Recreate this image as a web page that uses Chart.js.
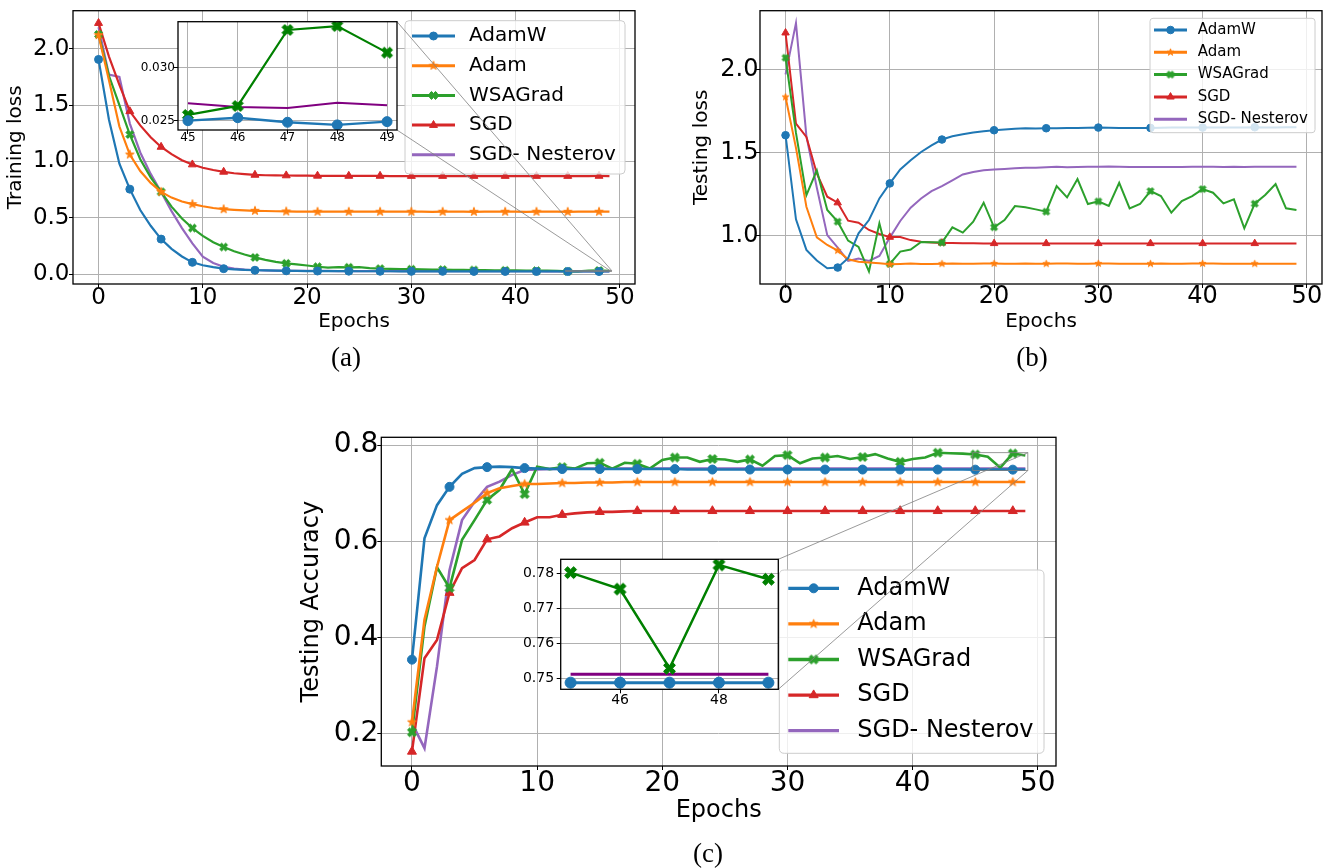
<!DOCTYPE html>
<html>
<head>
<meta charset="utf-8">
<script src="https://cdn.jsdelivr.net/npm/chart.js@4.4.1/dist/chart.umd.min.js"></script>
<style>
  body { margin: 0; background: #fff; }
  #page { position: relative; width: 1333px; height: 868px; overflow: hidden; background: #fff; }
  canvas { position: absolute; }
  .cap { position: absolute; font-family: 'Liberation Serif', serif; font-size: 27px; color: #000;
         transform: translate(-50%, -50%); line-height: 1; }
</style>
</head>
<body>
<div id="page">
  <canvas id="mainA" width="680" height="345" style="left:0px;top:0px"></canvas>
  <canvas id="insetA" width="290" height="140" style="left:120px;top:15px"></canvas>
  <canvas id="mainB" width="653" height="345" style="left:680px;top:0px"></canvas>
  <canvas id="mainC" width="790" height="448" style="left:290px;top:420px"></canvas>
  <canvas id="insetC" width="310" height="180" style="left:480px;top:545px"></canvas>
  <div class="cap" style="left:346px;top:357px">(a)</div>
  <div class="cap" style="left:1032px;top:357px">(b)</div>
  <div class="cap" style="left:708px;top:853px">(c)</div>
</div>
<script>
// ---- data ----
const epochs = [0,1,2,3,4,5,6,7,8,9,10,11,12,13,14,15,16,17,18,19,20,21,22,23,24,
                25,26,27,28,29,30,31,32,33,34,35,36,37,38,39,40,41,42,43,44,45,46,47,48,49];
const seriesNames = ['AdamW', 'Adam', 'WSAGrad', 'SGD', 'SGD- Nesterov'];

// (a) training loss
const trainAdamW = [1.905,1.37,0.98,0.755,0.57,0.43,0.312,0.225,0.158,0.106,
                    0.08,0.063,0.05,0.044,0.04,0.036,0.034,0.032,0.031,0.03,
                    0.029,0.029,0.028,0.028,0.028,0.027,0.027,0.027,0.027,0.026,
                    0.026,0.026,0.026,0.026,0.026,0.0256,0.0256,0.0255,0.0255,0.0255,
                    0.0254,0.0253,0.0252,0.0252,0.0251,0.0250,0.02528,0.02485,0.0246,0.02491];
const trainAdam = [2.12,1.72,1.31,1.062,0.915,0.81,0.731,0.68,0.645,0.622,
                   0.603,0.588,0.577,0.571,0.567,0.563,0.561,0.559,0.557,0.556,
                   0.556,0.555,0.555,0.556,0.555,0.555,0.555,0.555,0.555,0.555,
                   0.555,0.555,0.554,0.555,0.555,0.555,0.554,0.555,0.555,0.555,
                   0.555,0.554,0.555,0.555,0.555,0.554,0.555,0.555,0.555,0.555];
const trainWSAGrad = [2.127,1.76,1.5,1.239,1.02,0.86,0.731,0.6,0.495,0.41,
                      0.34,0.285,0.242,0.205,0.175,0.15,0.128,0.11,0.097,0.088,
                      0.078,0.067,0.06,0.063,0.062,0.063,0.055,0.05,0.048,0.047,
                      0.045,0.044,0.042,0.041,0.04,0.039,0.038,0.037,0.036,0.035,
                      0.034,0.033,0.032,0.033,0.03,0.02554,0.02639,0.03356,0.03393,0.03142];
const trainSGD = [2.227,1.93,1.68,1.445,1.32,1.215,1.129,1.065,1.012,0.973,
                  0.945,0.925,0.908,0.896,0.888,0.881,0.878,0.877,0.876,0.875,
                  0.874,0.873,0.873,0.872,0.872,0.872,0.872,0.872,0.871,0.871,
                  0.871,0.871,0.871,0.871,0.871,0.871,0.871,0.871,0.871,0.871,
                  0.871,0.871,0.871,0.871,0.871,0.871,0.871,0.871,0.872,0.871];
const trainNesterov = [2.19,1.77,1.75,1.336,1.08,0.89,0.73,0.56,0.41,0.274,
                       0.156,0.1,0.067,0.05,0.042,0.038,0.035,0.033,0.032,0.031,
                       0.03,0.03,0.03,0.029,0.029,0.029,0.029,0.028,0.028,0.028,
                       0.028,0.028,0.028,0.027,0.027,0.027,0.027,0.027,0.027,0.027,
                       0.027,0.027,0.027,0.0268,0.0267,0.02664,0.02629,0.0262,0.0267,0.02645];

// (b) testing loss
const testLossAdamW = [1.606,1.1,0.916,0.852,0.806,0.81,0.866,1.016,1.096,1.226,
                       1.316,1.4,1.455,1.505,1.545,1.58,1.6,1.612,1.622,1.63,
                       1.636,1.64,1.645,1.648,1.647,1.648,1.648,1.65,1.649,1.651,
                       1.652,1.651,1.65,1.65,1.65,1.65,1.651,1.652,1.652,1.653,
                       1.652,1.653,1.653,1.652,1.653,1.654,1.653,1.653,1.654,1.654];
const testLossAdam = [1.836,1.53,1.176,0.992,0.946,0.912,0.86,0.845,0.84,0.836,
                      0.83,0.832,0.834,0.832,0.832,0.833,0.834,0.833,0.833,0.834,
                      0.834,0.833,0.833,0.834,0.833,0.833,0.834,0.834,0.833,0.833,
                      0.834,0.834,0.833,0.833,0.833,0.833,0.834,0.833,0.833,0.834,
                      0.834,0.834,0.833,0.833,0.833,0.833,0.833,0.833,0.833,0.833];
const testLossWSAGrad = [2.072,1.62,1.245,1.394,1.156,1.086,0.972,0.934,0.786,1.076,
                         0.832,0.906,0.918,0.964,0.962,0.96,1.052,1.02,1.086,1.2,
                         1.052,1.096,1.18,1.172,1.16,1.146,1.30,1.232,1.342,1.192,
                         1.208,1.18,1.32,1.166,1.192,1.27,1.24,1.14,1.21,1.24,
                         1.282,1.26,1.196,1.22,1.046,1.194,1.246,1.312,1.166,1.156];
const testLossSGD = [2.222,1.676,1.596,1.376,1.236,1.2,1.092,1.08,1.036,1.012,
                     0.993,0.994,0.975,0.965,0.961,0.958,0.957,0.956,0.956,0.955,
                     0.955,0.955,0.955,0.955,0.955,0.955,0.955,0.955,0.955,0.955,
                     0.955,0.955,0.955,0.955,0.955,0.955,0.955,0.955,0.955,0.955,
                     0.955,0.955,0.955,0.955,0.955,0.955,0.955,0.955,0.955,0.955];
const testLossNesterov = [1.972,2.28,1.6,1.29,1.005,0.93,0.85,0.864,0.85,0.88,
                          0.99,1.09,1.17,1.225,1.27,1.30,1.335,1.37,1.385,1.395,
                          1.40,1.403,1.407,1.41,1.411,1.414,1.416,1.414,1.415,1.416,
                          1.416,1.418,1.416,1.415,1.415,1.415,1.415,1.415,1.415,1.416,
                          1.416,1.416,1.415,1.416,1.415,1.416,1.416,1.416,1.416,1.416];

// (c) testing accuracy
const testAccAdamW = [0.354,0.606,0.675,0.713,0.74,0.752,0.754,0.755,0.754,0.752,
                      0.751,0.75,0.75,0.75,0.75,0.75,0.75,0.75,0.75,0.75,
                      0.75,0.75,0.749,0.749,0.749,0.749,0.749,0.749,0.749,0.749,
                      0.749,0.749,0.749,0.749,0.749,0.749,0.749,0.749,0.749,0.749,
                      0.749,0.749,0.749,0.749,0.749,0.7488,0.7488,0.7488,0.7488,0.7488];
const testAccAdam = [0.224,0.437,0.547,0.644,0.662,0.68,0.70,0.71,0.715,0.719,
                     0.719,0.72,0.721,0.721,0.722,0.722,0.722,0.723,0.723,0.723,
                     0.723,0.723,0.723,0.723,0.723,0.723,0.723,0.723,0.723,0.723,
                     0.723,0.723,0.723,0.723,0.723,0.723,0.723,0.723,0.723,0.723,
                     0.723,0.723,0.723,0.723,0.723,0.723,0.723,0.723,0.723,0.723];
const testAccWSAGrad = [0.203,0.423,0.546,0.503,0.603,0.644,0.686,0.707,0.75,0.698,
                        0.755,0.75,0.754,0.751,0.762,0.763,0.751,0.763,0.761,0.751,
                        0.769,0.774,0.774,0.765,0.771,0.77,0.765,0.77,0.757,0.777,
                        0.779,0.762,0.772,0.774,0.777,0.771,0.775,0.781,0.772,0.765,
                        0.771,0.774,0.784,0.783,0.782,0.7802,0.7755,0.7529,0.7824,0.7783];
const testAccSGD = [0.163,0.357,0.395,0.493,0.544,0.561,0.604,0.61,0.627,0.639,
                    0.65,0.65,0.655,0.658,0.66,0.661,0.661,0.662,0.663,0.663,
                    0.663,0.663,0.663,0.663,0.663,0.663,0.663,0.663,0.663,0.663,
                    0.663,0.663,0.663,0.663,0.663,0.663,0.663,0.663,0.663,0.663,
                    0.663,0.663,0.663,0.663,0.663,0.663,0.663,0.663,0.663,0.663];
const testAccNesterov = [0.222,0.17,0.34,0.54,0.644,0.682,0.713,0.724,0.738,0.748,
                         0.749,0.75,0.751,0.751,0.751,0.751,0.751,0.751,0.751,0.751,
                         0.7512,0.7512,0.7512,0.7512,0.7512,0.7512,0.7512,0.7512,0.7512,0.7512,
                         0.7512,0.7512,0.7512,0.7512,0.7512,0.7512,0.7512,0.7512,0.7512,0.7512,
                         0.7512,0.7512,0.7512,0.7512,0.7512,0.7512,0.7512,0.7512,0.7512,0.7512];

// tick labels
const epochTicks = [0, 10, 20, 30, 40, 50];
const trainLossTicks = [0.0, 0.5, 1.0, 1.5, 2.0];
const testLossTicks = [1.0, 1.5, 2.0];
const testAccTicks = [0.2, 0.4, 0.6, 0.8];
const insetATicksX = [45, 46, 47, 48, 49];
const insetATicksY = [0.025, 0.030];
const insetCTicksX = [46, 48];
const insetCTicksY = [0.75, 0.76, 0.77, 0.78];
const zoomStart = 45; // inset shows epochs 45..49

// ---- styling helpers ----
const FONT = 'DejaVu Sans';
const C = { blue: '#1f77b4', orange: '#ff7f0e', green: '#2ca02c', red: '#d62728', purple: '#9467bd',
            dgreen: '#008000', dpurple: '#800080' };

function starImage(R, color) {
  const s = Math.ceil(2 * R + 3);
  const c = document.createElement('canvas');
  c.width = s; c.height = s;
  const g = c.getContext('2d');
  g.translate(s / 2, s / 2);
  g.beginPath();
  for (let k = 0; k < 10; k++) {
    const rr = k % 2 ? R * 0.382 : R;
    const ang = -Math.PI / 2 + k * Math.PI / 5;
    g.lineTo(rr * Math.cos(ang), rr * Math.sin(ang));
  }
  g.closePath();
  g.fillStyle = color; g.fill();
  g.strokeStyle = color; g.lineWidth = 1; g.stroke();
  return c;
}

function xImage(size, color) {
  const pts = [[-1,-2],[0,-1],[1,-2],[2,-1],[1,0],[2,1],[1,2],[0,1],[-1,2],[-2,1],[-1,0],[-2,-1]];
  const s = Math.ceil(size + 3);
  const c = document.createElement('canvas');
  c.width = s; c.height = s;
  const g = c.getContext('2d');
  g.translate(s / 2, s / 2);
  g.beginPath();
  pts.forEach(p => g.lineTo(p[0] * size / 4, p[1] * size / 4));
  g.closePath();
  g.fillStyle = color; g.fill();
  g.strokeStyle = color; g.lineWidth = 1; g.stroke();
  return c;
}

function series(label, xs, ys, color, marker, every, r, lw) {
  return {
    label: label,
    data: xs.map((x, i) => ({ x: x, y: ys[i] })),
    borderColor: color, backgroundColor: color, borderWidth: lw,
    pointStyle: marker || 'circle',
    pointRadius: ctx => (marker && ctx.dataIndex % every === 0) ? r : 0,
    pointBorderWidth: 1, pointBorderColor: color, pointBackgroundColor: color,
    pointHoverRadius: 0, tension: 0, fill: false,
    legendMarker: marker, legendRadius: r
  };
}

function xAxis(o) {
  return {
    type: 'linear', min: o.min, max: o.max,
    afterBuildTicks: ax => { ax.ticks = o.ticks.map(v => ({ value: v })); },
    afterFit: ax => { ax.height = o.height; ax.paddingLeft = 0; ax.paddingRight = 0; },
    grid: { color: '#b0b0b0', lineWidth: 1, tickColor: '#000', tickLength: 4, drawTicks: true },
    border: { display: false },
    ticks: { color: '#000', padding: o.pad, maxRotation: 0, minRotation: 0, autoSkip: false,
             font: { family: FONT, size: o.size, lineHeight: 1 },
             callback: v => String(v) },
    title: o.title ? { display: true, text: o.title, color: '#000',
                       font: { family: FONT, size: o.titleSize, lineHeight: 1.2 },
                       padding: { top: 0, bottom: o.titlePad } } : { display: false }
  };
}

function yAxis(o) {
  return {
    type: 'linear', min: o.min, max: o.max,
    afterBuildTicks: ax => { ax.ticks = o.ticks.map(v => ({ value: v })); },
    afterFit: ax => { ax.width = o.width; ax.paddingTop = 0; ax.paddingBottom = 0; },
    grid: { color: '#b0b0b0', lineWidth: 1, tickColor: '#000', tickLength: 4, drawTicks: true },
    border: { display: false },
    ticks: { color: '#000', padding: o.pad, autoSkip: false,
             font: { family: FONT, size: o.size, lineHeight: 1 },
             callback: v => v.toFixed(o.digits) },
    title: o.title ? { display: true, text: o.title, color: '#000',
                       font: { family: FONT, size: o.titleSize, lineHeight: 1.2 },
                       padding: { top: o.titlePad, bottom: 0 } } : { display: false }
  };
}

// extra drawing (legend box, frame, inset marks) looked up by canvas id
const extras = {};

function roundRectPath(ctx, x, y, w, h, r) {
  ctx.beginPath();
  ctx.moveTo(x + r, y);
  ctx.lineTo(x + w - r, y); ctx.quadraticCurveTo(x + w, y, x + w, y + r);
  ctx.lineTo(x + w, y + h - r); ctx.quadraticCurveTo(x + w, y + h, x + w - r, y + h);
  ctx.lineTo(x + r, y + h); ctx.quadraticCurveTo(x, y + h, x, y + h - r);
  ctx.lineTo(x, y + r); ctx.quadraticCurveTo(x, y, x + r, y);
  ctx.closePath();
}

function drawMarker(ctx, m, x, y, r) {
  if (m instanceof HTMLCanvasElement) { ctx.drawImage(m, x - m.width / 2, y - m.height / 2); return; }
  ctx.beginPath();
  if (m === 'circle') {
    ctx.arc(x, y, r, 0, Math.PI * 2);
  } else if (m === 'triangle') {
    let a = 0;
    ctx.moveTo(x + Math.sin(a) * r, y - Math.cos(a) * r);
    a += 2 * Math.PI / 3; ctx.lineTo(x + Math.sin(a) * r, y - Math.cos(a) * r);
    a += 2 * Math.PI / 3; ctx.lineTo(x + Math.sin(a) * r, y - Math.cos(a) * r);
    ctx.closePath();
  }
  ctx.fill(); ctx.stroke();
}

function drawLegend(chart, L) {
  const ctx = chart.ctx;
  ctx.save();
  roundRectPath(ctx, L.x, L.y, L.w, L.h, L.r);
  ctx.fillStyle = 'rgba(255,255,255,0.8)'; ctx.fill();
  ctx.strokeStyle = '#cccccc'; ctx.lineWidth = 1; ctx.stroke();
  ctx.font = L.font + 'px "' + FONT + '"';
  ctx.textBaseline = 'middle'; ctx.textAlign = 'left';
  chart.data.datasets.forEach((ds, i) => {
    const y = L.y + L.first + i * L.gap;
    ctx.strokeStyle = ds.borderColor; ctx.lineWidth = L.lw;
    ctx.beginPath(); ctx.moveTo(L.x + L.h1, y); ctx.lineTo(L.x + L.h2, y); ctx.stroke();
    if (ds.legendMarker) {
      ctx.fillStyle = ds.borderColor; ctx.strokeStyle = ds.borderColor; ctx.lineWidth = 1;
      drawMarker(ctx, ds.legendMarker, L.x + (L.h1 + L.h2) / 2, y, ds.legendRadius);
    }
    ctx.fillStyle = '#000';
    ctx.fillText(ds.label, L.x + L.tx, y);
  });
  ctx.restore();
}

function drawMark(chart, ins) {
  const ctx = chart.ctx;
  const xs = chart.scales.x, ys = chart.scales.y;
  const ix = ins.scales.x, iy = ins.scales.y;
  const rx1 = xs.getPixelForValue(ix.min), rx2 = xs.getPixelForValue(ix.max);
  const ry1 = ys.getPixelForValue(iy.max), ry2 = ys.getPixelForValue(iy.min);
  const dx = ins.canvas.offsetLeft - chart.canvas.offsetLeft;
  const dy = ins.canvas.offsetTop - chart.canvas.offsetTop;
  const a = ins.chartArea;
  ctx.save();
  ctx.strokeStyle = '#808080'; ctx.lineWidth = 0.8;
  ctx.strokeRect(rx1, ry1, rx2 - rx1, ry2 - ry1);
  ctx.beginPath();
  ctx.moveTo(dx + a.right, dy + a.top); ctx.lineTo(rx2, ry1);
  ctx.moveTo(dx + a.right, dy + a.bottom); ctx.lineTo(rx2, ry2);
  ctx.stroke();
  ctx.restore();
}

const figPlugin = {
  id: 'fig',
  beforeDraw(chart) {
    const e = extras[chart.canvas.id] || {};
    if (e.white) {
      const a = chart.chartArea, ctx = chart.ctx;
      ctx.save(); ctx.fillStyle = '#fff';
      ctx.fillRect(a.left, a.top, a.right - a.left, a.bottom - a.top);
      ctx.restore();
    }
  },
  afterDatasetsDraw(chart) {
    const e = extras[chart.canvas.id] || {};
    const a = chart.chartArea, ctx = chart.ctx;
    ctx.save();
    ctx.strokeStyle = '#000'; ctx.lineWidth = e.frame || 1.3;
    ctx.strokeRect(a.left, a.top, a.right - a.left, a.bottom - a.top);
    ctx.restore();
    if (e.legend) drawLegend(chart, e.legend);
    if (e.inset) drawMark(chart, e.inset);
  }
};

function build(id, datasets, padding, x, y) {
  return new Chart(document.getElementById(id), {
    type: 'line',
    data: { datasets: datasets },
    options: {
      animation: false, responsive: false, events: [],
      layout: { padding: padding },
      plugins: { legend: { display: false }, tooltip: { enabled: false } },
      scales: { x: xAxis(x), y: yAxis(y) }
    },
    plugins: [figPlugin]
  });
}

// ---- markers ----
const mkA = { star: starImage(4.5, C.orange), x: xImage(8, C.green) };
const mkB = { star: starImage(3.6, C.orange), x: xImage(7, C.green) };
const mkC = { star: starImage(4.6, C.orange), x: xImage(9, C.green) };
const mkIA = xImage(11, C.dgreen);
const mkIC = xImage(12, C.dgreen);

const insEpochs = epochs.slice(zoomStart);

// ---- inset (a) ----
extras.insetA = { white: true, frame: 1.3 };
const insetA = build('insetA', [
  series(seriesNames[0], insEpochs, trainAdamW.slice(zoomStart), C.blue, 'circle', 1, 5, 2.4),
  series(seriesNames[2], insEpochs, trainWSAGrad.slice(zoomStart), C.dgreen, mkIA, 1, 5, 2.2),
  series(seriesNames[4], insEpochs, trainNesterov.slice(zoomStart), C.dpurple, null, 1, 0, 2)
], { left: 0, top: 6.7, right: 13, bottom: 0 },
  { min: 44.8, max: 49.2, ticks: insetATicksX, height: 25, size: 12, pad: -2 },
  { min: 0.02412, max: 0.03434, ticks: insetATicksY, width: 58, size: 12, pad: -1, digits: 3 });

// ---- inset (c) ----
extras.insetC = { white: true, frame: 1.3 };
const insetC = build('insetC', [
  series(seriesNames[0], insEpochs, testAccAdamW.slice(zoomStart), C.blue, 'circle', 1, 5.5, 3),
  series(seriesNames[2], insEpochs, testAccWSAGrad.slice(zoomStart), C.dgreen, mkIC, 1, 6, 2.5),
  series(seriesNames[4], insEpochs, testAccNesterov.slice(zoomStart), C.dpurple, null, 1, 0, 3.2)
], { left: 0, top: 14.3, right: 11.7, bottom: 0 },
  { min: 44.8, max: 49.2, ticks: insetCTicksX, height: 35.7, size: 14, pad: -0.3 },
  { min: 0.7469, max: 0.7840, ticks: insetCTicksY, width: 80.7, size: 14, pad: 2.6, digits: 2 });

// ---- (a) training loss ----
extras.mainA = {
  inset: insetA,
  legend: { x: 405, y: 20.7, w: 220, h: 153.3, r: 4, first: 15.3, gap: 29.7, h1: 7, h2: 50, tx: 64, font: 20, lw: 3 }
};
build('mainA', [
  series(seriesNames[0], epochs, trainAdamW, C.blue, 'circle', 3, 4, 2.2),
  series(seriesNames[1], epochs, trainAdam, C.orange, mkA.star, 3, 4.5, 2.2),
  series(seriesNames[2], epochs, trainWSAGrad, C.green, mkA.x, 3, 4, 2.2),
  series(seriesNames[3], epochs, trainSGD, C.red, 'triangle', 3, 4.6, 2.2),
  series(seriesNames[4], epochs, trainNesterov, C.purple, null, 3, 0, 2.2)
], { left: 0, top: 10.7, right: 45, bottom: 0 },
  { min: -2.45, max: 51.45, ticks: epochTicks, height: 61, size: 23, pad: -1.1,
    title: 'Epochs', titleSize: 20, titlePad: 11.7 },
  { min: -0.086, max: 2.337, ticks: trainLossTicks, width: 73, size: 23, pad: -0.5, digits: 1,
    title: 'Training loss', titleSize: 20, titlePad: 3.5 });

// ---- (b) testing loss ----
extras.mainB = {
  legend: { x: 470, y: 18.3, w: 165, h: 114.4, r: 3, first: 11.7, gap: 22.3, h1: 4, h2: 37, tx: 47.7, font: 15, lw: 3 }
};
build('mainB', [
  series(seriesNames[0], epochs, testLossAdamW, C.blue, 'circle', 5, 3.8, 2),
  series(seriesNames[1], epochs, testLossAdam, C.orange, mkB.star, 5, 3.6, 2),
  series(seriesNames[2], epochs, testLossWSAGrad, C.green, mkB.x, 5, 3.5, 2),
  series(seriesNames[3], epochs, testLossSGD, C.red, 'triangle', 5, 4.3, 2),
  series(seriesNames[4], epochs, testLossNesterov, C.purple, null, 5, 0, 2)
], { left: 0, top: 10.7, right: 11, bottom: 0 },
  { min: -2.45, max: 51.45, ticks: epochTicks, height: 61, size: 24, pad: -3, 
    title: 'Epochs', titleSize: 20, titlePad: 11.7 },
  { min: 0.711, max: 2.355, ticks: testLossTicks, width: 80, size: 24, pad: -2.5, digits: 1,
    title: 'Testing loss', titleSize: 20, titlePad: 9.8 });

// ---- (c) testing accuracy ----
extras.mainC = {
  inset: insetC,
  legend: { x: 489.3, y: 150, w: 264.7, h: 183.3, r: 5, first: 18.3, gap: 35.6, h1: 9, h2: 59.7, tx: 78, font: 24, lw: 3.3 }
};
build('mainC', [
  series(seriesNames[0], epochs, testAccAdamW, C.blue, 'circle', 3, 4.5, 2.6),
  series(seriesNames[1], epochs, testAccAdam, C.orange, mkC.star, 3, 4.6, 2.6),
  series(seriesNames[2], epochs, testAccWSAGrad, C.green, mkC.x, 3, 4.5, 2.6),
  series(seriesNames[3], epochs, testAccSGD, C.red, 'triangle', 3, 5.2, 2.6),
  series(seriesNames[4], epochs, testAccNesterov, C.purple, null, 3, 0, 2.6)
], { left: 0, top: 17.3, right: 24, bottom: 0 },
  { min: -2.45, max: 51.45, ticks: epochTicks, height: 102, size: 28, pad: 0.2,
    title: 'Epochs', titleSize: 24, titlePad: 43 },
  { min: 0.133, max: 0.816, ticks: testAccTicks, width: 91.3, size: 28, pad: -1.1, digits: 1,
    title: 'Testing Accuracy', titleSize: 24, titlePad: 7.6 });
</script>
</body>
</html>
